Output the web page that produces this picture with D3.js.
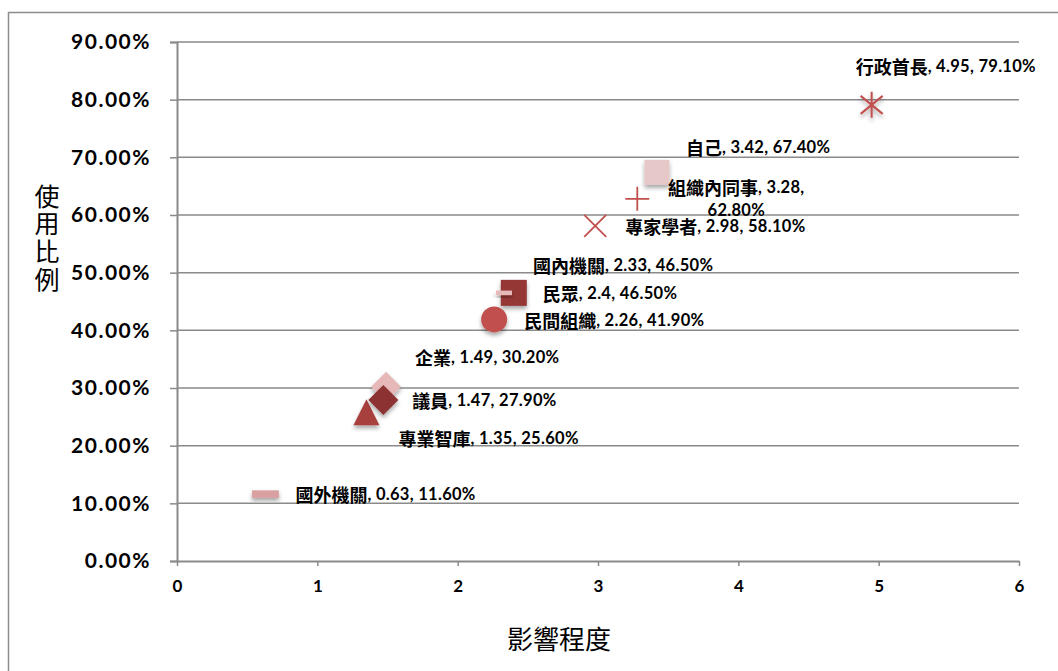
<!DOCTYPE html>
<html>
<head>
<meta charset="utf-8">
<script src="https://cdn.jsdelivr.net/npm/d3@7"></script>
<style>
  html, body { margin: 0; padding: 0; background: #fff; }
  svg { display: block; }
</style>
</head>
<body>
<svg id="chart" width="1058" height="671"></svg>
<script>
// Data: source name, influence score, share of respondents using it
const names   = ["行政首長", "自己", "組織內同事", "專家學者", "民眾", "國內機關", "民間組織", "專業智庫", "企業", "議員", "國外機關"];
const impact  = [4.95, 3.42, 3.28, 2.98, 2.4, 2.33, 2.26, 1.35, 1.49, 1.47, 0.63];
const usage   = [0.791, 0.674, 0.628, 0.581, 0.465, 0.465, 0.419, 0.256, 0.302, 0.279, 0.116];

const xTicks = [0, 1, 2, 3, 4, 5, 6];
const yTicks = [0, 0.1, 0.2, 0.3, 0.4, 0.5, 0.6, 0.7, 0.8, 0.9];

// Marker look per point (same order as names)
const shapes  = ["asterisk", "square", "plus", "cross", "square", "dash", "circle", "triangle", "diamond", "diamond", "dash"];
const colors  = ["#C0504D", "#E6C8C9", "#C0504D", "#C0504D", "#953735", "#E6B9B8", "#C0504D", "#A8403D", "#E6B9B8", "#8C3232", "#D9A0A2"];
const sizes   = [13, 25, 12, 11, 26, 16, 13, 13, 15, 15, 27];
// Label placement relative to its marker: [dx, dy, anchor]
const labelPos = [[-16, -39, "start"], [29, -25, "start"], [99, -11, "middle"], [30, 0, "start"],
                  [29, 0, "start"], [29, -28, "start"], [30, 1, "start"], [32, 25, "start"],
                  [29, -30, "start"], [29, 0, "start"], [30, 0, "start"]];

const svg = d3.select("#chart");
const margin = { left: 177, right: 1058 - 1019, top: 42, bottom: 671 - 561 };
const W = 1058, H = 671;

const x = d3.scaleLinear().domain([0, 6]).range([margin.left, W - margin.right]);
const y = d3.scaleLinear().domain([0, 0.9]).range([H - margin.bottom, margin.top]);

const defs = svg.append("defs");
const shadow = defs.append("filter").attr("id", "shadow")
  .attr("x", "-50%").attr("y", "-50%").attr("width", "200%").attr("height", "200%");
shadow.append("feDropShadow").attr("dx", 0).attr("dy", 3).attr("stdDeviation", 2)
  .attr("flood-color", "#000").attr("flood-opacity", 0.35);

// Outer chart frame
svg.append("path").attr("d", `M8.5,${H}V12.5H${W}`)
  .attr("fill", "none").attr("stroke", "#8c8c8c").attr("stroke-width", 1.5);

const gridColor = "#8a8a8a";
const tickFont = "Lato, 'Open Sans', sans-serif";

// Horizontal gridlines
svg.append("g").selectAll("line").data(yTicks.filter(d => d > 0)).join("line")
  .attr("x1", x(0)).attr("x2", x(6))
  .attr("y1", d => y(d)).attr("y2", d => y(d))
  .attr("stroke", gridColor).attr("stroke-width", 1.5);

// Y axis
const yAxis = svg.append("g").attr("transform", `translate(${x(0)},0)`)
  .call(d3.axisLeft(y).tickValues(yTicks).tickFormat(d => (d * 100).toFixed(2) + "%").tickSize(7).tickPadding(19));
yAxis.select(".domain").attr("stroke", gridColor).attr("stroke-width", 2);
yAxis.selectAll(".tick line").attr("stroke", gridColor).attr("stroke-width", 1.5);
yAxis.selectAll("text").attr("font-family", tickFont).attr("font-weight", "bold")
  .attr("font-size", 21).attr("letter-spacing", 1.5).attr("fill", "#000");

// X axis
const xAxis = svg.append("g").attr("transform", `translate(0,${y(0)})`)
  .call(d3.axisBottom(x).tickValues(xTicks).tickFormat(d3.format("d")).tickSize(5).tickPadding(14).tickSizeOuter(0));
xAxis.select(".domain").attr("stroke", gridColor).attr("stroke-width", 2);
xAxis.selectAll(".tick line").attr("stroke", gridColor).attr("stroke-width", 1.5);
xAxis.selectAll("text").attr("font-family", tickFont).attr("font-weight", "bold")
  .attr("font-size", 17).attr("fill", "#000");

// Axis titles
const cjk = "'Noto Sans CJK TC', 'Noto Sans CJK SC', sans-serif";
svg.append("text").attr("x", (x(0) + x(6)) / 2 - 39).attr("y", 637)
  .attr("text-anchor", "middle").attr("dominant-baseline", "central")
  .attr("font-family", cjk).attr("font-size", 26).attr("fill", "#000").text("影響程度");

svg.append("text").attr("x", 47).attr("y", 239)
  .attr("text-anchor", "middle")
  .style("writing-mode", "vertical-rl").style("text-orientation", "upright")
  .attr("letter-spacing", 2.7)
  .attr("font-family", cjk).attr("font-size", 25).attr("fill", "#000").text("使用比例");

// Marker drawing
function marker(g, shape, color, s) {
  switch (shape) {
    case "square":
      g.append("rect").attr("x", -s / 2).attr("y", -s / 2).attr("width", s).attr("height", s)
        .attr("fill", color).attr("filter", "url(#shadow)");
      break;
    case "circle":
      g.append("circle").attr("r", s).attr("fill", color).attr("filter", "url(#shadow)");
      break;
    case "diamond":
      g.append("path").attr("d", `M0,${-s}L${s},0L0,${s}L${-s},0Z`).attr("fill", color).attr("filter", "url(#shadow)");
      break;
    case "triangle":
      g.append("path").attr("d", `M0,${-s - 1}L${s},${s - 1}L${-s},${s - 1}Z`).attr("fill", color).attr("filter", "url(#shadow)");
      break;
    case "dash":
      g.append("rect").attr("x", -s / 2).attr("y", -s * 0.14).attr("width", s).attr("height", s * 0.28)
        .attr("fill", color).attr("filter", "url(#shadow)");
      break;
    case "plus":
      g.append("path").attr("d", `M${-s},0H${s}M0,${-s}V${s}`).attr("stroke", color)
        .attr("stroke-width", 1.8).attr("fill", "none");
      break;
    case "cross":
      g.append("path").attr("d", `M${-s},${-s}L${s},${s}M${s},${-s}L${-s},${s}`).attr("stroke", color)
        .attr("stroke-width", 1.8).attr("fill", "none");
      break;
    case "asterisk":
      g.append("path").attr("d", `M0,${-s}V${s}M-11,-9L11,9M11,-9L-11,9`).attr("stroke", color)
        .attr("stroke-width", 2).attr("fill", "none").attr("filter", "url(#shadow)");
      break;
  }
}

const idx = d3.range(names.length);
const pts = svg.append("g").selectAll("g").data(idx).join("g")
  .attr("transform", i => `translate(${x(impact[i])},${y(usage[i])})`);
pts.each(function (i) { marker(d3.select(this), shapes[i], colors[i], sizes[i]); });

// Data labels: "name, x, y%"
const numFont = "Lato, 'Open Sans', sans-serif";
const labels = svg.append("g").selectAll("text").data(idx).join("text")
  .attr("font-weight", "bold").attr("fill", "#000")
  .attr("text-anchor", i => labelPos[i][2]);

function addLine(t, px, py, name, rest) {
  if (name) {
    t.append("tspan").attr("x", px).attr("y", py).attr("dominant-baseline", "central")
      .attr("font-family", cjk).attr("font-size", 18).text(name);
    t.append("tspan").attr("dominant-baseline", "central")
      .attr("font-family", numFont).attr("font-size", 16.5).attr("letter-spacing", 0.3).text(rest);
  } else {
    t.append("tspan").attr("x", px).attr("y", py).attr("dominant-baseline", "central")
      .attr("font-family", numFont).attr("font-size", 16.5).attr("letter-spacing", 0.3).text(rest);
  }
}

labels.each(function (i) {
  const t = d3.select(this);
  const px = x(impact[i]) + labelPos[i][0];
  const py = y(usage[i]) + labelPos[i][1];
  const pct = (usage[i] * 100).toFixed(2) + "%";
  const nm = names[i];
  if (nm === "組織內同事") {
    addLine(t, px, py - 1, nm, `, ${impact[i]},`);
    addLine(t, px, py + 22, null, pct);
  } else {
    addLine(t, px, py, nm, `, ${impact[i]}, ${pct}`);
  }
});
</script>
</body>
</html>
